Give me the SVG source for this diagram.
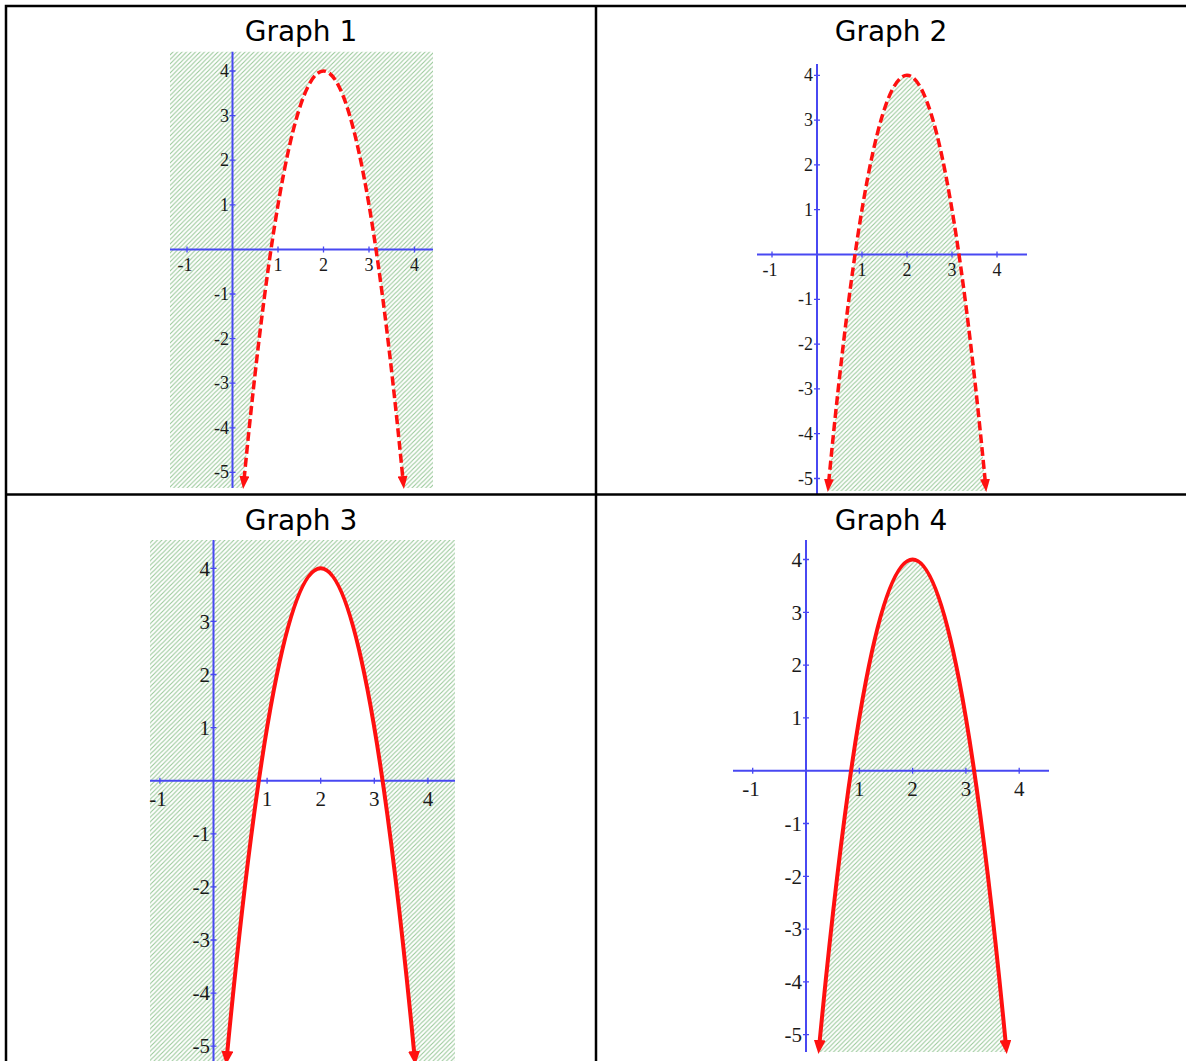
<svg xmlns="http://www.w3.org/2000/svg" width="1186" height="1061" viewBox="0 0 1186 1061">
<style>
.ax{stroke:#4848f2;stroke-width:2;fill:none}
.tk{stroke:#4848f2;stroke-width:1.3;fill:none}
.hatch{fill:url(#hatch);stroke:none}
.lb{font-family:"Liberation Serif","Times New Roman",serif;fill:#1a1a1a}
.s1{font-size:18px}
.s2{font-size:21px}
.ly{text-anchor:end}
.lx{text-anchor:middle}
.dash{stroke:#ff1010;stroke-width:3.5;fill:none;stroke-dasharray:9 4}
.solid{stroke:#ff1010;stroke-width:4;fill:none}
.title{font-family:"DejaVu Sans","Noto Sans",sans-serif;font-size:28px;fill:#000;text-anchor:middle}
.tbl{stroke:#000;stroke-width:2.5;fill:none}
</style>
<defs>
<pattern id="hatch" patternUnits="userSpaceOnUse" width="4.5" height="4.5">
<rect width="4.5" height="4.5" fill="#fff"/>
<path d="M-1,1 L1,-1 M0,4.5 L4.5,0 M3.5,5.5 L5.5,3.5" stroke="#98c898" stroke-width="1.1"/>
</pattern>
<marker id="arrS" markerUnits="userSpaceOnUse" viewBox="0 0 13 10" refX="4" refY="5" markerWidth="13" markerHeight="10" orient="auto-start-reverse">
<path d="M0,0 L13,5 L0,10 Z" fill="#ff1010"/>
</marker>
<marker id="arrL" markerUnits="userSpaceOnUse" viewBox="0 0 14 12" refX="4" refY="6" markerWidth="14" markerHeight="12" orient="auto-start-reverse">
<path d="M0,0 L14,6 L0,12 Z" fill="#ff1010"/>
</marker>
</defs>
<rect width="1186" height="1061" fill="#fff"/>

<g id="graph1">
<text class="title" x="301" y="41">Graph 1</text>
<path class="hatch" fill-rule="evenodd" d="M170,51.7 H433 V488 H170 Z M243.2,488 Q323.5,-346 403.8,488 Z"/>
<line class="ax" x1="170" y1="249.4" x2="433" y2="249.4"/>
<line class="ax" x1="232.5" y1="51.7" x2="232.5" y2="488"/>
<path class="tk" d="M187,246.4V252.4 M278,246.4V252.4 M323.5,246.4V252.4 M369,246.4V252.4 M414.5,246.4V252.4 M229.5,71H235.5 M229.5,115.6H235.5 M229.5,160.2H235.5 M229.5,204.8H235.5 M229.5,294H235.5 M229.5,338.6H235.5 M229.5,383.2H235.5 M229.5,427.8H235.5 M229.5,472.4H235.5"/>
<g class="lb s1 lx">
<text x="185" y="271">-1</text><text x="278" y="271">1</text><text x="323.5" y="271">2</text><text x="369" y="271">3</text><text x="414.5" y="271">4</text>
</g>
<g class="lb s1 ly">
<text x="229" y="77">4</text><text x="229" y="121.6">3</text><text x="229" y="166.2">2</text><text x="229" y="210.8">1</text>
<text x="229" y="300">-1</text><text x="229" y="344.6">-2</text><text x="229" y="389.2">-3</text><text x="229" y="433.8">-4</text><text x="229" y="478.4">-5</text>
</g>
<path class="dash" d="M244,480 Q323.5,-338 403,480" marker-start="url(#arrS)" marker-end="url(#arrS)"/>
</g>

<g id="graph2">
<text class="title" x="891" y="41">Graph 2</text>
<path class="hatch" d="M827.8,491 Q907,-340.4 986.2,491 Z"/>
<line class="ax" x1="757" y1="254.5" x2="1027" y2="254.5"/>
<line class="ax" x1="817" y1="64" x2="817" y2="494"/>
<path class="tk" d="M772,251.5V257.5 M862,251.5V257.5 M907,251.5V257.5 M952,251.5V257.5 M997,251.5V257.5 M814,75.3H820 M814,120.1H820 M814,164.9H820 M814,209.7H820 M814,299.3H820 M814,344.1H820 M814,388.9H820 M814,433.7H820 M814,478.5H820"/>
<g class="lb s1 lx">
<text x="770" y="276">-1</text><text x="862" y="276">1</text><text x="907" y="276">2</text><text x="952" y="276">3</text><text x="997" y="276">4</text>
</g>
<g class="lb s1 ly">
<text x="813" y="81.3">4</text><text x="813" y="126.1">3</text><text x="813" y="170.9">2</text><text x="813" y="215.7">1</text>
<text x="813" y="305.3">-1</text><text x="813" y="350.1">-2</text><text x="813" y="394.9">-3</text><text x="813" y="439.7">-4</text><text x="813" y="484.5">-5</text>
</g>
<path class="dash" d="M828.6,483 Q907,-332.4 985.4,483" marker-start="url(#arrS)" marker-end="url(#arrS)"/>
</g>

<g id="graph3">
<text class="title" x="301" y="530">Graph 3</text>
<path class="hatch" fill-rule="evenodd" d="M150,540 H455 V1063 H150 Z M226.3,1063 Q320.7,73.6 415.1,1063 Z"/>
<line class="ax" x1="150" y1="780.7" x2="455" y2="780.7"/>
<line class="ax" x1="213.5" y1="540" x2="213.5" y2="1061"/>
<path class="tk" d="M159.9,777.7V783.7 M267.1,777.7V783.7 M320.7,777.7V783.7 M374.3,777.7V783.7 M427.9,777.7V783.7 M210.5,568.3H216.5 M210.5,621.4H216.5 M210.5,674.5H216.5 M210.5,727.6H216.5 M210.5,833.8H216.5 M210.5,886.9H216.5 M210.5,940H216.5 M210.5,993.1H216.5 M210.5,1046.2H216.5"/>
<g class="lb s2 lx">
<text x="158" y="806">-1</text><text x="267.1" y="806">1</text><text x="320.7" y="806">2</text><text x="374.3" y="806">3</text><text x="427.9" y="806">4</text>
</g>
<g class="lb s2 ly">
<text x="210" y="575.5">4</text><text x="210" y="628.6">3</text><text x="210" y="681.7">2</text><text x="210" y="734.8">1</text>
<text x="210" y="841">-1</text><text x="210" y="894.1">-2</text><text x="210" y="947.2">-3</text><text x="210" y="1000.3">-4</text><text x="210" y="1053.4">-5</text>
</g>
<path class="solid" d="M227,1055 Q320.7,81.6 414.4,1055" marker-start="url(#arrL)" marker-end="url(#arrL)"/>
</g>

<g id="graph4">
<text class="title" x="891" y="530">Graph 4</text>
<path class="hatch" d="M818.6,1052 Q912.6,67 1006.6,1052 Z"/>
<line class="ax" x1="733" y1="770.7" x2="1049" y2="770.7"/>
<line class="ax" x1="806" y1="540" x2="806" y2="1052"/>
<path class="tk" d="M752.7,767.7V773.7 M859.3,767.7V773.7 M912.6,767.7V773.7 M965.9,767.7V773.7 M1019.2,767.7V773.7 M803,559.5H809 M803,612.3H809 M803,665.1H809 M803,717.9H809 M803,823.5H809 M803,876.3H809 M803,929.1H809 M803,981.9H809 M803,1034.7H809"/>
<g class="lb s2 lx">
<text x="751" y="796">-1</text><text x="859.3" y="796">1</text><text x="912.6" y="796">2</text><text x="965.9" y="796">3</text><text x="1019.2" y="796">4</text>
</g>
<g class="lb s2 ly">
<text x="802" y="566.7">4</text><text x="802" y="619.5">3</text><text x="802" y="672.3">2</text><text x="802" y="725.1">1</text>
<text x="802" y="830.7">-1</text><text x="802" y="883.5">-2</text><text x="802" y="936.3">-3</text><text x="802" y="989.1">-4</text><text x="802" y="1041.9">-5</text>
</g>
<path class="solid" d="M819.4,1044 Q912.6,75 1005.8,1044" marker-start="url(#arrL)" marker-end="url(#arrL)"/>
</g>

<g id="table">
<rect class="tbl" x="6" y="6" width="1182" height="1060"/>
<line class="tbl" x1="596" y1="6" x2="596" y2="1061"/>
<line class="tbl" x1="6" y1="494.5" x2="1186" y2="494.5"/>
</g>
</svg>
